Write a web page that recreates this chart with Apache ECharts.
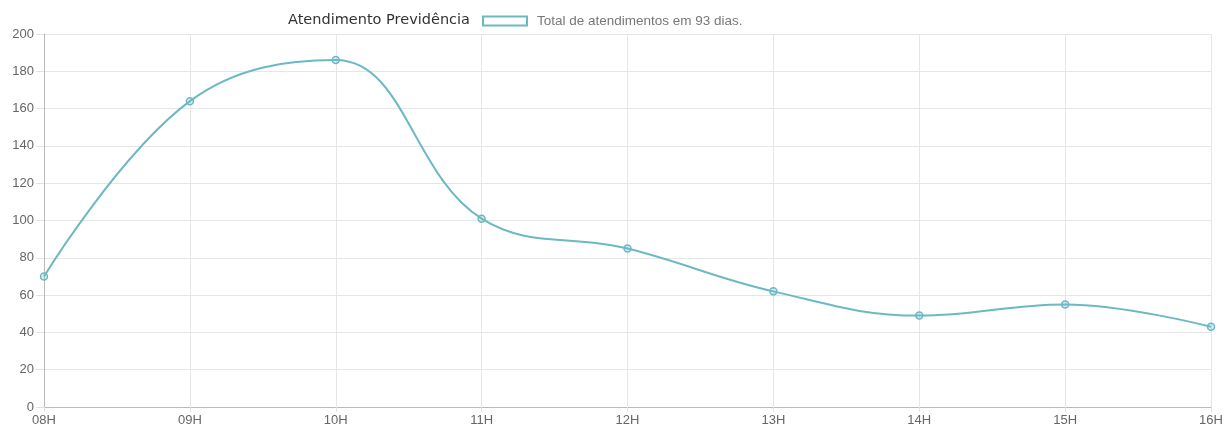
<!DOCTYPE html>
<html>
<head>
<meta charset="utf-8">
<script src="https://cdn.jsdelivr.net/npm/echarts@6/dist/echarts.min.js"></script>
<style>
  html, body { margin: 0; padding: 0; background: #fff; }
  #chart { width: 1224px; height: 425px; }
</style>
</head>
<body>
<div id="chart"></div>
<script>
const horas = ['08H', '09H', '10H', '11H', '12H', '13H', '14H', '15H', '16H'];
const atendimentos = [70, 164, 186, 101, 85, 62, 49, 55, 43];
const serieNome = 'Total de atendimentos em 93 dias.';
const cor = '#6db9c3';

const myChart = echarts.init(document.getElementById('chart'));
const option = {
  animation: false,
  title: {
    text: 'Atendimento Previdência',
    left: 283,
    top: 8,
    textStyle: { fontFamily: 'DejaVu Sans', fontSize: 14.5, fontWeight: 'normal', color: '#333' }
  },
  legend: {
    left: 477,
    top: 9,
    itemWidth: 44,
    itemHeight: 9,
    itemGap: 6,
    icon: 'rect',
    data: [{ name: serieNome, itemStyle: { color: '#fff', borderColor: cor, borderWidth: 2 } }],
    textStyle: { fontFamily: 'Liberation Sans', fontSize: 13.5, color: '#777', padding: [0, 0, 0, 5] }
  },
  grid: { left: 44, right: 13, top: 34, bottom: 18, containLabel: false, outerBoundsMode: 'none' },
  xAxis: {
    type: 'category',
    data: horas,
    boundaryGap: false,
    axisLine: { lineStyle: { color: '#bbb' } },
    axisTick: { show: true, length: 5, lineStyle: { color: '#e3e3e3' } },
    axisLabel: { fontFamily: 'Liberation Sans', fontSize: 13, color: '#666', margin: 7 },
    splitLine: { show: true, lineStyle: { color: '#e6e6e6' } }
  },
  yAxis: {
    type: 'value',
    min: 0,
    max: 200,
    interval: 20,
    axisLine: { show: true, lineStyle: { color: '#bbb' } },
    axisTick: { show: true, length: 8, lineStyle: { color: '#e3e3e3' } },
    axisLabel: { fontFamily: 'Liberation Sans', fontSize: 13, color: '#666', margin: 10 },
    splitLine: { show: true, lineStyle: { color: '#e6e6e6' } }
  },
  series: [{
    name: serieNome,
    type: 'line',
    data: atendimentos,
    smooth: 0.4,
    symbol: 'circle',
    symbolSize: 7,
    lineStyle: { color: cor, width: 2 },
    itemStyle: { color: 'rgba(109,185,195,0.25)', borderColor: cor, borderWidth: 1.5 }
  }]
};
myChart.setOption(option);
</script>
</body>
</html>
